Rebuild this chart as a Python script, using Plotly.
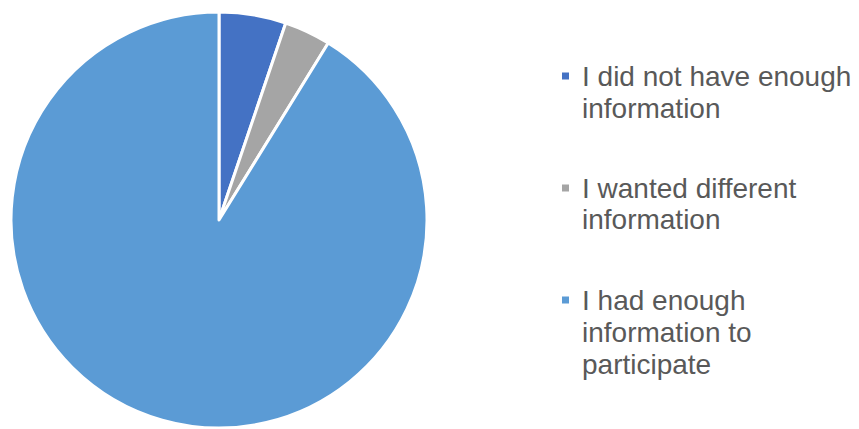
import plotly.graph_objects as go

# Data
categories = ["I did not have enough information",
              "I wanted different information",
              "I had enough information to participate"]
values = [5.2, 3.6, 91.2]
legend_lines = [["I did not have enough", "information"],
                ["I wanted different", "information"],
                ["I had enough", "information to", "participate"]]
colors = ["#4472C4", "#A5A5A5", "#5B9BD5"]

W, H = 859, 429

fig = go.Figure(go.Pie(
    labels=categories,
    values=values,
    marker=dict(colors=colors, line=dict(color="white", width=3)),
    sort=False,
    direction="clockwise",
    rotation=0,
    textinfo="none",
    hoverinfo="label+percent",
    domain=dict(x=[11 / W, 427 / W], y=[1 - 428 / H, 1 - 12 / H]),
    showlegend=False,
))

# Manual legend
line_h = 32
entry_gap = 112
y0 = 76
annotations = []
shapes = []
for i, lines in enumerate(legend_lines):
    ey = y0 + i * entry_gap
    shapes.append(dict(type="rect", xref="paper", yref="paper",
                       x0=562 / W, x1=569 / W,
                       y0=1 - (ey + 3.5) / H, y1=1 - (ey - 3.5) / H,
                       fillcolor=colors[i], line=dict(width=0)))
    for j, t in enumerate(lines):
        annotations.append(dict(
            text=t, xref="paper", yref="paper",
            x=580 / W, y=1 - (ey + j * line_h) / H,
            xanchor="left", yanchor="middle", showarrow=False,
            align="left",
            font=dict(family="Liberation Sans, Arial, sans-serif", size=28, color="#595959"),
        ))

fig.update_layout(
    width=W, height=H,
    margin=dict(l=0, r=0, t=0, b=0),
    paper_bgcolor="white",
    plot_bgcolor="white",
    annotations=annotations,
    shapes=shapes,
)

fig.write_html("out.html")
